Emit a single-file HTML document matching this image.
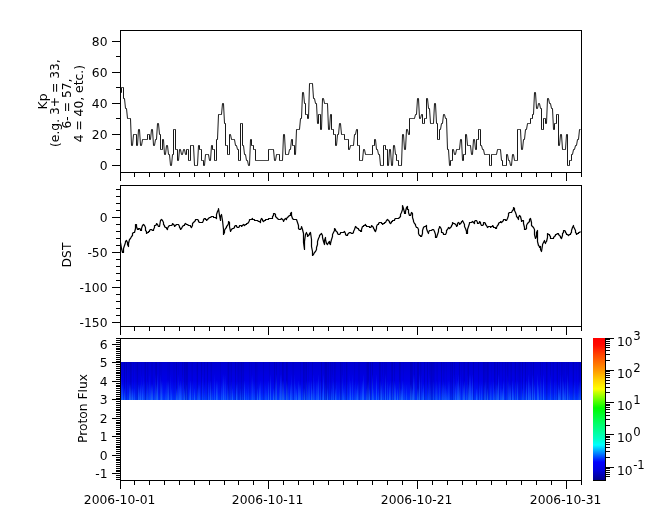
<!DOCTYPE html>
<html><head><meta charset="utf-8"><title>tplot</title>
<style>html,body{margin:0;padding:0;background:#fff}svg{display:block}</style></head>
<body>
<svg width="665" height="523" viewBox="0 0 665 523">
<rect width="665" height="523" fill="#fff"/>
<defs>
<linearGradient id="cb" x1="0" y1="0" x2="0" y2="1">
<stop offset="0.0000" stop-color="rgb(255,0,0)"/>
<stop offset="0.0493" stop-color="rgb(255,10,0)"/>
<stop offset="0.1197" stop-color="rgb(255,70,0)"/>
<stop offset="0.2254" stop-color="rgb(255,150,0)"/>
<stop offset="0.2958" stop-color="rgb(255,210,0)"/>
<stop offset="0.3592" stop-color="rgb(255,255,0)"/>
<stop offset="0.3803" stop-color="rgb(205,255,0)"/>
<stop offset="0.4366" stop-color="rgb(100,255,0)"/>
<stop offset="0.4930" stop-color="rgb(0,250,0)"/>
<stop offset="0.5986" stop-color="rgb(0,255,100)"/>
<stop offset="0.7113" stop-color="rgb(0,255,200)"/>
<stop offset="0.7535" stop-color="rgb(0,255,255)"/>
<stop offset="0.8028" stop-color="rgb(0,150,255)"/>
<stop offset="0.8732" stop-color="rgb(0,0,255)"/>
<stop offset="0.9296" stop-color="rgb(0,0,222)"/>
<stop offset="1.0000" stop-color="rgb(0,0,138)"/>
</linearGradient>
<linearGradient id="sp" x1="0" y1="0" x2="0" y2="1">
<stop offset="0.00" stop-color="rgb(0,0,208)"/>
<stop offset="0.50" stop-color="rgb(0,0,232)"/>
<stop offset="0.80" stop-color="rgb(0,25,248)"/>
<stop offset="1.00" stop-color="rgb(0,58,255)"/>
</linearGradient>
<linearGradient id="f12" gradientUnits="userSpaceOnUse" x1="0" y1="388" x2="0" y2="400"><stop offset="0" stop-color="#2a86ff" stop-opacity="0"/><stop offset="1" stop-color="#2a86ff" stop-opacity="1"/></linearGradient>
<linearGradient id="f16" gradientUnits="userSpaceOnUse" x1="0" y1="384" x2="0" y2="400"><stop offset="0" stop-color="#2a86ff" stop-opacity="0"/><stop offset="1" stop-color="#2a86ff" stop-opacity="1"/></linearGradient>
<linearGradient id="f20" gradientUnits="userSpaceOnUse" x1="0" y1="380" x2="0" y2="400"><stop offset="0" stop-color="#2a86ff" stop-opacity="0"/><stop offset="1" stop-color="#2a86ff" stop-opacity="1"/></linearGradient>
<linearGradient id="f26" gradientUnits="userSpaceOnUse" x1="0" y1="374" x2="0" y2="400"><stop offset="0" stop-color="#2a86ff" stop-opacity="0"/><stop offset="1" stop-color="#2a86ff" stop-opacity="1"/></linearGradient>
</defs>
<rect x="121" y="362" width="460" height="38" fill="url(#sp)"/>
<g fill="none" shape-rendering="crispEdges">
<path d="M128.5 362v38M129.5 362v38M135.5 362v38M138.5 362v38M139.5 362v38M141.5 362v38M148.5 362v38M160.5 362v38M161.5 362v38M167.5 362v38M168.5 362v38M173.5 362v38M174.5 362v38M178.5 362v38M191.5 362v38M196.5 362v38M210.5 362v38M229.5 362v38M230.5 362v38M251.5 362v38M257.5 362v38M279.5 362v38M292.5 362v38M327.5 362v38M331.5 362v38M344.5 362v38M347.5 362v38M385.5 362v38M403.5 362v38M421.5 362v38M436.5 362v38M444.5 362v38M446.5 362v38M461.5 362v38M491.5 362v38M508.5 362v38M514.5 362v38M517.5 362v38M527.5 362v38M530.5 362v38M552.5 362v38M556.5 362v38M563.5 362v38M564.5 362v38M567.5 362v38M572.5 362v38M576.5 362v38M578.5 362v38" stroke="#00004a" stroke-opacity="0.05"/>
<path d="M133.5 362v38M136.5 362v38M144.5 362v38M151.5 362v38M152.5 362v38M159.5 362v38M169.5 362v38M192.5 362v38M220.5 362v38M227.5 362v38M237.5 362v38M239.5 362v38M240.5 362v38M242.5 362v38M249.5 362v38M256.5 362v38M269.5 362v38M293.5 362v38M300.5 362v38M305.5 362v38M308.5 362v38M324.5 362v38M332.5 362v38M335.5 362v38M341.5 362v38M342.5 362v38M354.5 362v38M358.5 362v38M359.5 362v38M366.5 362v38M382.5 362v38M384.5 362v38M386.5 362v38M429.5 362v38M434.5 362v38M437.5 362v38M443.5 362v38M451.5 362v38M463.5 362v38M467.5 362v38M485.5 362v38M486.5 362v38M495.5 362v38M499.5 362v38M502.5 362v38M510.5 362v38M518.5 362v38M520.5 362v38M531.5 362v38M542.5 362v38M547.5 362v38M559.5 362v38M562.5 362v38M566.5 362v38" stroke="#00004a" stroke-opacity="0.08"/>
<path d="M131.5 362v38M147.5 362v38M155.5 362v38M182.5 362v38M185.5 362v38M204.5 362v38M211.5 362v38M231.5 362v38M238.5 362v38M243.5 362v38M255.5 362v38M263.5 362v38M276.5 362v38M283.5 362v38M287.5 362v38M304.5 362v38M312.5 362v38M328.5 362v38M330.5 362v38M334.5 362v38M380.5 362v38M391.5 362v38M394.5 362v38M400.5 362v38M412.5 362v38M414.5 362v38M420.5 362v38M430.5 362v38M432.5 362v38M433.5 362v38M450.5 362v38M454.5 362v38M464.5 362v38M478.5 362v38M484.5 362v38M488.5 362v38M505.5 362v38M507.5 362v38M511.5 362v38M519.5 362v38M540.5 362v38M550.5 362v38M553.5 362v38M561.5 362v38M568.5 362v38M579.5 362v38" stroke="#00004a" stroke-opacity="0.12"/>
<path d="M124.5 362v38M126.5 362v38M130.5 362v38M137.5 362v38M145.5 362v38M156.5 362v38M176.5 362v38M184.5 362v38M186.5 362v38M187.5 362v38M197.5 362v38M201.5 362v38M207.5 362v38M228.5 362v38M235.5 362v38M241.5 362v38M274.5 362v38M282.5 362v38M286.5 362v38M303.5 362v38M306.5 362v38M321.5 362v38M325.5 362v38M326.5 362v38M340.5 362v38M346.5 362v38M367.5 362v38M368.5 362v38M370.5 362v38M372.5 362v38M379.5 362v38M392.5 362v38M399.5 362v38M410.5 362v38M411.5 362v38M417.5 362v38M418.5 362v38M424.5 362v38M427.5 362v38M431.5 362v38M441.5 362v38M452.5 362v38M459.5 362v38M468.5 362v38M473.5 362v38M483.5 362v38M487.5 362v38M494.5 362v38M497.5 362v38M515.5 362v38M522.5 362v38M525.5 362v38M533.5 362v38M546.5 362v38M557.5 362v38M573.5 362v38" stroke="#00004a" stroke-opacity="0.17"/>
<path d="M133.5 388v12M146.5 388v12M154.5 388v12M165.5 388v12M211.5 388v12M212.5 388v12M228.5 388v12M242.5 388v12M246.5 388v12M266.5 388v12M274.5 388v12M284.5 388v12M302.5 388v12M303.5 388v12M307.5 388v12M339.5 388v12M360.5 388v12M383.5 388v12M428.5 388v12M447.5 388v12M477.5 388v12M525.5 388v12M569.5 388v12" stroke="url(#f12)" stroke-opacity="0.20"/>
<path d="M131.5 388v12M134.5 388v12M139.5 388v12M171.5 388v12M177.5 388v12M189.5 388v12M197.5 388v12M240.5 388v12M312.5 388v12M322.5 388v12M331.5 388v12M343.5 388v12M356.5 388v12M366.5 388v12M373.5 388v12M378.5 388v12M400.5 388v12M418.5 388v12M422.5 388v12M446.5 388v12M494.5 388v12M501.5 388v12M513.5 388v12M522.5 388v12M564.5 388v12" stroke="url(#f12)" stroke-opacity="0.35"/>
<path d="M124.5 388v12M132.5 388v12M176.5 388v12M184.5 388v12M194.5 388v12M232.5 388v12M257.5 388v12M273.5 388v12M296.5 388v12M304.5 388v12M327.5 388v12M335.5 388v12M369.5 388v12M397.5 388v12M401.5 388v12M412.5 388v12M417.5 388v12M476.5 388v12M487.5 388v12M502.5 388v12M559.5 388v12" stroke="url(#f12)" stroke-opacity="0.55"/>
<path d="M148.5 384v16M204.5 384v16M230.5 384v16M248.5 384v16M254.5 384v16M265.5 384v16M288.5 384v16M292.5 384v16M325.5 384v16M344.5 384v16M354.5 384v16M361.5 384v16M404.5 384v16M427.5 384v16M430.5 384v16M435.5 384v16M437.5 384v16M441.5 384v16M495.5 384v16M573.5 384v16M578.5 384v16" stroke="url(#f16)" stroke-opacity="0.20"/>
<path d="M150.5 384v16M181.5 384v16M186.5 384v16M198.5 384v16M199.5 384v16M221.5 384v16M227.5 384v16M279.5 384v16M287.5 384v16M295.5 384v16M367.5 384v16M406.5 384v16M411.5 384v16M442.5 384v16M444.5 384v16M445.5 384v16M466.5 384v16M471.5 384v16M479.5 384v16M481.5 384v16M484.5 384v16M490.5 384v16M496.5 384v16M500.5 384v16M509.5 384v16" stroke="url(#f16)" stroke-opacity="0.35"/>
<path d="M122.5 384v16M129.5 384v16M130.5 384v16M138.5 384v16M140.5 384v16M142.5 384v16M151.5 384v16M152.5 384v16M156.5 384v16M179.5 384v16M236.5 384v16M259.5 384v16M290.5 384v16M299.5 384v16M300.5 384v16M357.5 384v16M381.5 384v16M389.5 384v16M395.5 384v16M410.5 384v16M423.5 384v16M455.5 384v16M459.5 384v16M463.5 384v16M468.5 384v16M497.5 384v16M510.5 384v16M530.5 384v16M534.5 384v16M538.5 384v16M558.5 384v16" stroke="url(#f16)" stroke-opacity="0.55"/>
<path d="M144.5 380v20M162.5 380v20M166.5 380v20M183.5 380v20M192.5 380v20M231.5 380v20M237.5 380v20M253.5 380v20M314.5 380v20M336.5 380v20M347.5 380v20M355.5 380v20M358.5 380v20M403.5 380v20M449.5 380v20M462.5 380v20M491.5 380v20M541.5 380v20M554.5 380v20M556.5 380v20M568.5 380v20M574.5 380v20" stroke="url(#f20)" stroke-opacity="0.20"/>
<path d="M147.5 380v20M167.5 380v20M208.5 380v20M217.5 380v20M260.5 380v20M275.5 380v20M306.5 380v20M308.5 380v20M309.5 380v20M316.5 380v20M317.5 380v20M320.5 380v20M333.5 380v20M368.5 380v20M380.5 380v20M387.5 380v20M390.5 380v20M392.5 380v20M399.5 380v20M433.5 380v20M436.5 380v20M439.5 380v20M443.5 380v20M448.5 380v20M485.5 380v20M493.5 380v20M508.5 380v20M515.5 380v20M529.5 380v20M565.5 380v20M579.5 380v20M580.5 380v20" stroke="url(#f20)" stroke-opacity="0.35"/>
<path d="M161.5 380v20M168.5 380v20M180.5 380v20M190.5 380v20M210.5 380v20M216.5 380v20M244.5 380v20M268.5 380v20M282.5 380v20M283.5 380v20M286.5 380v20M298.5 380v20M311.5 380v20M350.5 380v20M362.5 380v20M394.5 380v20M402.5 380v20M457.5 380v20M464.5 380v20M503.5 380v20M512.5 380v20M517.5 380v20M526.5 380v20M563.5 380v20" stroke="url(#f20)" stroke-opacity="0.55"/>
<path d="M141.5 374v26M143.5 374v26M149.5 374v26M170.5 374v26M182.5 374v26M202.5 374v26M222.5 374v26M224.5 374v26M251.5 374v26M332.5 374v26M349.5 374v26M382.5 374v26M421.5 374v26M429.5 374v26M453.5 374v26M454.5 374v26M456.5 374v26M460.5 374v26M467.5 374v26M507.5 374v26M523.5 374v26M533.5 374v26" stroke="url(#f26)" stroke-opacity="0.20"/>
<path d="M121.5 374v26M155.5 374v26M160.5 374v26M178.5 374v26M214.5 374v26M225.5 374v26M252.5 374v26M281.5 374v26M291.5 374v26M294.5 374v26M313.5 374v26M342.5 374v26M352.5 374v26M414.5 374v26M540.5 374v26M550.5 374v26M560.5 374v26M562.5 374v26" stroke="url(#f26)" stroke-opacity="0.35"/>
<path d="M157.5 374v26M223.5 374v26M270.5 374v26M276.5 374v26M280.5 374v26M318.5 374v26M323.5 374v26M363.5 374v26M372.5 374v26M376.5 374v26M385.5 374v26M413.5 374v26M419.5 374v26M458.5 374v26M469.5 374v26M470.5 374v26M472.5 374v26M498.5 374v26M528.5 374v26M532.5 374v26M537.5 374v26M543.5 374v26M567.5 374v26" stroke="url(#f26)" stroke-opacity="0.55"/>
</g>
<g shape-rendering="crispEdges" fill="#000">
<rect x="120" y="30" width="462" height="1"/>
<rect x="120" y="172" width="462" height="1"/>
<rect x="120" y="30" width="1" height="143"/>
<rect x="581" y="30" width="1" height="143"/>
<rect x="120" y="172" width="1" height="9"/>
<rect x="134" y="172" width="1" height="5"/>
<rect x="149" y="172" width="1" height="5"/>
<rect x="164" y="172" width="1" height="5"/>
<rect x="179" y="172" width="1" height="5"/>
<rect x="194" y="172" width="1" height="5"/>
<rect x="209" y="172" width="1" height="5"/>
<rect x="224" y="172" width="1" height="5"/>
<rect x="238" y="172" width="1" height="5"/>
<rect x="253" y="172" width="1" height="5"/>
<rect x="268" y="172" width="1" height="9"/>
<rect x="283" y="172" width="1" height="5"/>
<rect x="298" y="172" width="1" height="5"/>
<rect x="313" y="172" width="1" height="5"/>
<rect x="328" y="172" width="1" height="5"/>
<rect x="343" y="172" width="1" height="5"/>
<rect x="357" y="172" width="1" height="5"/>
<rect x="372" y="172" width="1" height="5"/>
<rect x="387" y="172" width="1" height="5"/>
<rect x="402" y="172" width="1" height="5"/>
<rect x="417" y="172" width="1" height="9"/>
<rect x="432" y="172" width="1" height="5"/>
<rect x="447" y="172" width="1" height="5"/>
<rect x="462" y="172" width="1" height="5"/>
<rect x="476" y="172" width="1" height="5"/>
<rect x="491" y="172" width="1" height="5"/>
<rect x="506" y="172" width="1" height="5"/>
<rect x="521" y="172" width="1" height="5"/>
<rect x="536" y="172" width="1" height="5"/>
<rect x="551" y="172" width="1" height="5"/>
<rect x="566" y="172" width="1" height="9"/>
<rect x="581" y="172" width="1" height="5"/>
<rect x="120" y="185" width="462" height="1"/>
<rect x="120" y="326" width="462" height="1"/>
<rect x="120" y="185" width="1" height="142"/>
<rect x="581" y="185" width="1" height="142"/>
<rect x="120" y="326" width="1" height="9"/>
<rect x="134" y="326" width="1" height="5"/>
<rect x="149" y="326" width="1" height="5"/>
<rect x="164" y="326" width="1" height="5"/>
<rect x="179" y="326" width="1" height="5"/>
<rect x="194" y="326" width="1" height="5"/>
<rect x="209" y="326" width="1" height="5"/>
<rect x="224" y="326" width="1" height="5"/>
<rect x="238" y="326" width="1" height="5"/>
<rect x="253" y="326" width="1" height="5"/>
<rect x="268" y="326" width="1" height="9"/>
<rect x="283" y="326" width="1" height="5"/>
<rect x="298" y="326" width="1" height="5"/>
<rect x="313" y="326" width="1" height="5"/>
<rect x="328" y="326" width="1" height="5"/>
<rect x="343" y="326" width="1" height="5"/>
<rect x="357" y="326" width="1" height="5"/>
<rect x="372" y="326" width="1" height="5"/>
<rect x="387" y="326" width="1" height="5"/>
<rect x="402" y="326" width="1" height="5"/>
<rect x="417" y="326" width="1" height="9"/>
<rect x="432" y="326" width="1" height="5"/>
<rect x="447" y="326" width="1" height="5"/>
<rect x="462" y="326" width="1" height="5"/>
<rect x="476" y="326" width="1" height="5"/>
<rect x="491" y="326" width="1" height="5"/>
<rect x="506" y="326" width="1" height="5"/>
<rect x="521" y="326" width="1" height="5"/>
<rect x="536" y="326" width="1" height="5"/>
<rect x="551" y="326" width="1" height="5"/>
<rect x="566" y="326" width="1" height="9"/>
<rect x="581" y="326" width="1" height="5"/>
<rect x="120" y="338" width="462" height="1"/>
<rect x="120" y="480" width="462" height="1"/>
<rect x="120" y="338" width="1" height="143"/>
<rect x="581" y="338" width="1" height="143"/>
<rect x="120" y="480" width="1" height="9"/>
<rect x="134" y="480" width="1" height="5"/>
<rect x="149" y="480" width="1" height="5"/>
<rect x="164" y="480" width="1" height="5"/>
<rect x="179" y="480" width="1" height="5"/>
<rect x="194" y="480" width="1" height="5"/>
<rect x="209" y="480" width="1" height="5"/>
<rect x="224" y="480" width="1" height="5"/>
<rect x="238" y="480" width="1" height="5"/>
<rect x="253" y="480" width="1" height="5"/>
<rect x="268" y="480" width="1" height="9"/>
<rect x="283" y="480" width="1" height="5"/>
<rect x="298" y="480" width="1" height="5"/>
<rect x="313" y="480" width="1" height="5"/>
<rect x="328" y="480" width="1" height="5"/>
<rect x="343" y="480" width="1" height="5"/>
<rect x="357" y="480" width="1" height="5"/>
<rect x="372" y="480" width="1" height="5"/>
<rect x="387" y="480" width="1" height="5"/>
<rect x="402" y="480" width="1" height="5"/>
<rect x="417" y="480" width="1" height="9"/>
<rect x="432" y="480" width="1" height="5"/>
<rect x="447" y="480" width="1" height="5"/>
<rect x="462" y="480" width="1" height="5"/>
<rect x="476" y="480" width="1" height="5"/>
<rect x="491" y="480" width="1" height="5"/>
<rect x="506" y="480" width="1" height="5"/>
<rect x="521" y="480" width="1" height="5"/>
<rect x="536" y="480" width="1" height="5"/>
<rect x="551" y="480" width="1" height="5"/>
<rect x="566" y="480" width="1" height="9"/>
<rect x="581" y="480" width="1" height="5"/>
<rect x="112" y="165" width="9" height="1"/>
<rect x="116" y="149" width="5" height="1"/>
<rect x="112" y="134" width="9" height="1"/>
<rect x="116" y="118" width="5" height="1"/>
<rect x="112" y="103" width="9" height="1"/>
<rect x="116" y="87" width="5" height="1"/>
<rect x="112" y="72" width="9" height="1"/>
<rect x="116" y="56" width="5" height="1"/>
<rect x="112" y="41" width="9" height="1"/>
<rect x="112" y="322" width="9" height="1"/>
<rect x="116" y="315" width="5" height="1"/>
<rect x="116" y="308" width="5" height="1"/>
<rect x="116" y="301" width="5" height="1"/>
<rect x="116" y="294" width="5" height="1"/>
<rect x="112" y="287" width="9" height="1"/>
<rect x="116" y="280" width="5" height="1"/>
<rect x="116" y="273" width="5" height="1"/>
<rect x="116" y="266" width="5" height="1"/>
<rect x="116" y="259" width="5" height="1"/>
<rect x="112" y="252" width="9" height="1"/>
<rect x="116" y="245" width="5" height="1"/>
<rect x="116" y="238" width="5" height="1"/>
<rect x="116" y="231" width="5" height="1"/>
<rect x="116" y="224" width="5" height="1"/>
<rect x="112" y="217" width="9" height="1"/>
<rect x="116" y="210" width="5" height="1"/>
<rect x="116" y="203" width="5" height="1"/>
<rect x="116" y="196" width="5" height="1"/>
<rect x="116" y="189" width="5" height="1"/>
<rect x="116" y="479" width="5" height="1"/>
<rect x="116" y="477" width="5" height="1"/>
<rect x="116" y="475" width="5" height="1"/>
<rect x="112" y="473" width="9" height="1"/>
<rect x="116" y="471" width="5" height="1"/>
<rect x="116" y="470" width="5" height="1"/>
<rect x="116" y="468" width="5" height="1"/>
<rect x="116" y="466" width="5" height="1"/>
<rect x="116" y="464" width="5" height="1"/>
<rect x="116" y="462" width="5" height="1"/>
<rect x="116" y="460" width="5" height="1"/>
<rect x="116" y="459" width="5" height="1"/>
<rect x="116" y="457" width="5" height="1"/>
<rect x="112" y="455" width="9" height="1"/>
<rect x="116" y="453" width="5" height="1"/>
<rect x="116" y="451" width="5" height="1"/>
<rect x="116" y="449" width="5" height="1"/>
<rect x="116" y="447" width="5" height="1"/>
<rect x="116" y="446" width="5" height="1"/>
<rect x="116" y="444" width="5" height="1"/>
<rect x="116" y="442" width="5" height="1"/>
<rect x="116" y="440" width="5" height="1"/>
<rect x="116" y="438" width="5" height="1"/>
<rect x="112" y="436" width="9" height="1"/>
<rect x="116" y="434" width="5" height="1"/>
<rect x="116" y="433" width="5" height="1"/>
<rect x="116" y="431" width="5" height="1"/>
<rect x="116" y="429" width="5" height="1"/>
<rect x="116" y="427" width="5" height="1"/>
<rect x="116" y="425" width="5" height="1"/>
<rect x="116" y="423" width="5" height="1"/>
<rect x="116" y="422" width="5" height="1"/>
<rect x="116" y="420" width="5" height="1"/>
<rect x="112" y="418" width="9" height="1"/>
<rect x="116" y="416" width="5" height="1"/>
<rect x="116" y="414" width="5" height="1"/>
<rect x="116" y="412" width="5" height="1"/>
<rect x="116" y="410" width="5" height="1"/>
<rect x="116" y="409" width="5" height="1"/>
<rect x="116" y="407" width="5" height="1"/>
<rect x="116" y="405" width="5" height="1"/>
<rect x="116" y="403" width="5" height="1"/>
<rect x="116" y="401" width="5" height="1"/>
<rect x="112" y="399" width="9" height="1"/>
<rect x="116" y="398" width="5" height="1"/>
<rect x="116" y="396" width="5" height="1"/>
<rect x="116" y="394" width="5" height="1"/>
<rect x="116" y="392" width="5" height="1"/>
<rect x="116" y="390" width="5" height="1"/>
<rect x="116" y="388" width="5" height="1"/>
<rect x="116" y="386" width="5" height="1"/>
<rect x="116" y="385" width="5" height="1"/>
<rect x="116" y="383" width="5" height="1"/>
<rect x="112" y="381" width="9" height="1"/>
<rect x="116" y="379" width="5" height="1"/>
<rect x="116" y="377" width="5" height="1"/>
<rect x="116" y="375" width="5" height="1"/>
<rect x="116" y="373" width="5" height="1"/>
<rect x="116" y="372" width="5" height="1"/>
<rect x="116" y="370" width="5" height="1"/>
<rect x="116" y="368" width="5" height="1"/>
<rect x="116" y="366" width="5" height="1"/>
<rect x="116" y="364" width="5" height="1"/>
<rect x="112" y="362" width="9" height="1"/>
<rect x="116" y="361" width="5" height="1"/>
<rect x="116" y="359" width="5" height="1"/>
<rect x="116" y="357" width="5" height="1"/>
<rect x="116" y="355" width="5" height="1"/>
<rect x="116" y="353" width="5" height="1"/>
<rect x="116" y="351" width="5" height="1"/>
<rect x="116" y="349" width="5" height="1"/>
<rect x="116" y="348" width="5" height="1"/>
<rect x="116" y="346" width="5" height="1"/>
<rect x="112" y="344" width="9" height="1"/>
<rect x="116" y="342" width="5" height="1"/>
<rect x="116" y="340" width="5" height="1"/>
<rect x="116" y="338" width="5" height="1"/>
</g>
<rect x="593" y="338" width="12" height="142" fill="url(#cb)"/>
<g shape-rendering="crispEdges" fill="#000">
<rect x="605" y="338" width="1" height="143"/>
<rect x="593" y="480" width="13" height="1"/>
<rect x="605" y="338" width="9" height="1"/>
<rect x="605" y="370" width="9" height="1"/>
<rect x="605" y="402" width="9" height="1"/>
<rect x="605" y="434" width="9" height="1"/>
<rect x="605" y="467" width="9" height="1"/>
<rect x="605" y="476" width="5" height="1"/>
<rect x="605" y="474" width="5" height="1"/>
<rect x="605" y="472" width="5" height="1"/>
<rect x="605" y="470" width="5" height="1"/>
<rect x="605" y="468" width="5" height="1"/>
<rect x="605" y="457" width="5" height="1"/>
<rect x="605" y="451" width="5" height="1"/>
<rect x="605" y="447" width="5" height="1"/>
<rect x="605" y="444" width="5" height="1"/>
<rect x="605" y="442" width="5" height="1"/>
<rect x="605" y="439" width="5" height="1"/>
<rect x="605" y="437" width="5" height="1"/>
<rect x="605" y="436" width="5" height="1"/>
<rect x="605" y="425" width="5" height="1"/>
<rect x="605" y="419" width="5" height="1"/>
<rect x="605" y="415" width="5" height="1"/>
<rect x="605" y="412" width="5" height="1"/>
<rect x="605" y="409" width="5" height="1"/>
<rect x="605" y="407" width="5" height="1"/>
<rect x="605" y="405" width="5" height="1"/>
<rect x="605" y="404" width="5" height="1"/>
<rect x="605" y="392" width="5" height="1"/>
<rect x="605" y="387" width="5" height="1"/>
<rect x="605" y="383" width="5" height="1"/>
<rect x="605" y="380" width="5" height="1"/>
<rect x="605" y="377" width="5" height="1"/>
<rect x="605" y="375" width="5" height="1"/>
<rect x="605" y="373" width="5" height="1"/>
<rect x="605" y="371" width="5" height="1"/>
<rect x="605" y="360" width="5" height="1"/>
<rect x="605" y="354" width="5" height="1"/>
<rect x="605" y="350" width="5" height="1"/>
<rect x="605" y="347" width="5" height="1"/>
<rect x="605" y="345" width="5" height="1"/>
<rect x="605" y="343" width="5" height="1"/>
<rect x="605" y="341" width="5" height="1"/>
<rect x="605" y="339" width="5" height="1"/>
</g>
<polyline points="120.5,92.5 121.5,92.5 121.5,87.5 122.5,87.5 123.5,87.5 123.5,98.5 124.5,98.5 125.5,108.5 126.5,108.5 127.5,118.5 128.5,118.5 129.5,118.5 130.5,118.5 131.5,145.5 132.5,145.5 133.5,134.5 134.5,134.5 135.5,134.5 136.5,134.5 136.5,145.5 137.5,145.5 138.5,129.5 139.5,129.5 140.5,145.5 141.5,145.5 142.5,139.5 143.5,139.5 144.5,139.5 145.5,139.5 146.5,139.5 147.5,139.5 147.5,134.5 148.5,134.5 149.5,134.5 149.5,139.5 150.5,139.5 151.5,129.5 152.5,129.5 153.5,145.5 154.5,145.5 155.5,139.5 156.5,139.5 157.5,123.5 158.5,123.5 159.5,134.5 160.5,134.5 160.5,149.5 161.5,149.5 162.5,149.5 162.5,139.5 163.5,139.5 164.5,154.5 165.5,154.5 166.5,145.5 167.5,145.5 168.5,154.5 169.5,154.5 170.5,165.5 171.5,165.5 172.5,154.5 173.5,154.5 173.5,129.5 174.5,129.5 175.5,129.5 175.5,149.5 176.5,149.5 177.5,149.5 177.5,160.5 178.5,160.5 179.5,149.5 180.5,149.5 181.5,154.5 182.5,154.5 183.5,149.5 184.5,149.5 185.5,154.5 186.5,154.5 186.5,149.5 187.5,149.5 188.5,149.5 188.5,160.5 189.5,160.5 190.5,160.5 190.5,145.5 191.5,145.5 192.5,145.5 193.5,145.5 194.5,165.5 195.5,165.5 196.5,165.5 197.5,165.5 198.5,145.5 199.5,145.5 199.5,149.5 200.5,149.5 201.5,149.5 201.5,160.5 202.5,160.5 203.5,160.5 203.5,165.5 204.5,165.5 205.5,154.5 206.5,154.5 207.5,154.5 208.5,154.5 209.5,160.5 210.5,160.5 211.5,145.5 212.5,145.5 212.5,149.5 213.5,149.5 214.5,149.5 214.5,160.5 215.5,160.5 216.5,160.5 216.5,139.5 217.5,139.5 218.5,114.5 219.5,114.5 220.5,114.5 221.5,114.5 222.5,103.5 223.5,103.5 224.5,123.5 225.5,123.5 225.5,145.5 226.5,145.5 227.5,145.5 227.5,154.5 228.5,154.5 229.5,154.5 229.5,134.5 230.5,134.5 231.5,139.5 232.5,139.5 233.5,139.5 234.5,139.5 235.5,145.5 236.5,145.5 237.5,149.5 238.5,149.5 238.5,160.5 239.5,160.5 240.5,160.5 240.5,123.5 241.5,123.5 242.5,123.5 242.5,145.5 243.5,145.5 244.5,154.5 245.5,154.5 246.5,160.5 247.5,160.5 248.5,165.5 249.5,165.5 250.5,139.5 251.5,139.5 251.5,145.5 252.5,145.5 253.5,145.5 253.5,149.5 254.5,149.5 255.5,149.5 255.5,160.5 256.5,160.5 257.5,160.5 258.5,160.5 259.5,160.5 260.5,160.5 261.5,160.5 262.5,160.5 263.5,160.5 264.5,160.5 265.5,160.5 266.5,160.5 267.5,160.5 268.5,160.5 268.5,149.5 269.5,149.5 270.5,149.5 271.5,149.5 272.5,149.5 273.5,149.5 274.5,160.5 275.5,160.5 276.5,154.5 277.5,154.5 278.5,154.5 279.5,154.5 279.5,160.5 280.5,160.5 281.5,160.5 282.5,160.5 283.5,134.5 284.5,134.5 285.5,154.5 286.5,154.5 287.5,154.5 288.5,154.5 289.5,149.5 290.5,149.5 291.5,139.5 292.5,139.5 292.5,145.5 293.5,145.5 294.5,145.5 294.5,154.5 295.5,154.5 296.5,129.5 297.5,129.5 298.5,129.5 299.5,129.5 300.5,118.5 301.5,118.5 302.5,92.5 303.5,92.5 304.5,103.5 305.5,103.5 305.5,114.5 306.5,114.5 307.5,114.5 307.5,118.5 308.5,118.5 309.5,83.5 310.5,83.5 311.5,83.5 312.5,83.5 313.5,98.5 314.5,98.5 315.5,103.5 316.5,103.5 317.5,123.5 318.5,123.5 318.5,114.5 319.5,114.5 320.5,114.5 320.5,129.5 321.5,129.5 322.5,98.5 323.5,98.5 324.5,103.5 325.5,103.5 326.5,103.5 327.5,103.5 328.5,129.5 329.5,129.5 330.5,114.5 331.5,114.5 331.5,129.5 332.5,129.5 333.5,129.5 333.5,134.5 334.5,134.5 335.5,134.5 335.5,145.5 336.5,145.5 337.5,134.5 338.5,134.5 339.5,123.5 340.5,123.5 341.5,134.5 342.5,134.5 343.5,134.5 344.5,134.5 344.5,139.5 345.5,139.5 346.5,139.5 347.5,139.5 348.5,139.5 348.5,149.5 349.5,149.5 350.5,145.5 351.5,145.5 352.5,145.5 353.5,145.5 354.5,134.5 355.5,134.5 356.5,129.5 357.5,129.5 357.5,145.5 358.5,145.5 359.5,145.5 359.5,160.5 360.5,160.5 361.5,160.5 362.5,160.5 363.5,149.5 364.5,149.5 365.5,154.5 366.5,154.5 367.5,154.5 368.5,154.5 369.5,154.5 370.5,154.5 371.5,154.5 372.5,154.5 372.5,145.5 373.5,145.5 374.5,145.5 374.5,139.5 375.5,139.5 376.5,149.5 377.5,149.5 378.5,154.5 379.5,154.5 380.5,165.5 381.5,165.5 382.5,165.5 383.5,165.5 383.5,145.5 384.5,145.5 385.5,145.5 385.5,149.5 386.5,149.5 387.5,149.5 387.5,165.5 388.5,165.5 389.5,149.5 390.5,149.5 391.5,165.5 392.5,165.5 393.5,145.5 394.5,145.5 395.5,154.5 396.5,154.5 396.5,160.5 397.5,160.5 398.5,160.5 398.5,165.5 399.5,165.5 400.5,165.5 401.5,165.5 402.5,134.5 403.5,134.5 404.5,149.5 405.5,149.5 406.5,129.5 407.5,129.5 408.5,134.5 409.5,134.5 409.5,118.5 410.5,118.5 411.5,118.5 412.5,118.5 413.5,118.5 414.5,118.5 415.5,114.5 416.5,114.5 417.5,98.5 418.5,98.5 419.5,118.5 420.5,118.5 421.5,114.5 422.5,114.5 422.5,123.5 423.5,123.5 424.5,123.5 424.5,118.5 425.5,118.5 426.5,118.5 426.5,98.5 427.5,98.5 428.5,108.5 429.5,108.5 430.5,123.5 431.5,123.5 432.5,123.5 433.5,123.5 434.5,103.5 435.5,103.5 436.5,123.5 437.5,123.5 437.5,139.5 438.5,139.5 439.5,139.5 439.5,129.5 440.5,129.5 441.5,123.5 442.5,123.5 443.5,114.5 444.5,114.5 445.5,118.5 446.5,118.5 447.5,149.5 448.5,149.5 449.5,165.5 450.5,165.5 450.5,160.5 451.5,160.5 452.5,160.5 452.5,149.5 453.5,149.5 454.5,154.5 455.5,154.5 456.5,149.5 457.5,149.5 458.5,149.5 459.5,149.5 460.5,139.5 461.5,139.5 462.5,160.5 463.5,160.5 463.5,154.5 464.5,154.5 465.5,154.5 465.5,134.5 466.5,134.5 467.5,145.5 468.5,145.5 469.5,145.5 470.5,145.5 471.5,154.5 472.5,154.5 473.5,139.5 474.5,139.5 475.5,149.5 476.5,149.5 476.5,139.5 477.5,139.5 478.5,139.5 478.5,129.5 479.5,129.5 480.5,129.5 480.5,145.5 481.5,145.5 482.5,149.5 483.5,149.5 484.5,154.5 485.5,154.5 486.5,154.5 487.5,154.5 488.5,154.5 489.5,154.5 489.5,165.5 490.5,165.5 491.5,165.5 491.5,154.5 492.5,154.5 493.5,154.5 494.5,154.5 495.5,154.5 496.5,154.5 497.5,149.5 498.5,149.5 499.5,149.5 500.5,149.5 501.5,160.5 502.5,160.5 502.5,165.5 503.5,165.5 504.5,165.5 505.5,165.5 506.5,165.5 506.5,154.5 507.5,154.5 508.5,160.5 509.5,160.5 510.5,165.5 511.5,165.5 512.5,154.5 513.5,154.5 514.5,160.5 515.5,160.5 516.5,160.5 517.5,160.5 517.5,129.5 518.5,129.5 519.5,129.5 520.5,129.5 521.5,149.5 522.5,149.5 523.5,139.5 524.5,139.5 525.5,129.5 526.5,129.5 527.5,123.5 528.5,123.5 529.5,123.5 530.5,123.5 530.5,118.5 531.5,118.5 532.5,118.5 532.5,114.5 533.5,114.5 534.5,92.5 535.5,92.5 536.5,108.5 537.5,108.5 538.5,103.5 539.5,103.5 540.5,108.5 541.5,108.5 541.5,129.5 542.5,129.5 543.5,129.5 543.5,118.5 544.5,118.5 545.5,118.5 545.5,123.5 546.5,123.5 547.5,98.5 548.5,98.5 549.5,103.5 550.5,103.5 551.5,108.5 552.5,108.5 553.5,129.5 554.5,129.5 554.5,123.5 555.5,123.5 556.5,123.5 556.5,114.5 557.5,114.5 558.5,114.5 558.5,145.5 559.5,145.5 560.5,134.5 561.5,134.5 562.5,149.5 563.5,149.5 564.5,149.5 565.5,149.5 566.5,134.5 567.5,134.5 567.5,165.5 568.5,165.5 569.5,165.5 569.5,160.5 570.5,160.5 571.5,160.5 571.5,154.5 572.5,154.5 573.5,149.5 574.5,149.5 575.5,145.5 576.5,145.5 577.5,139.5 578.5,139.5 579.5,129.5 580.5,129.5" fill="none" stroke="#000" stroke-width="0.9" stroke-linejoin="miter"/>
<polyline points="120.5,242.5 121.5,248.5 122.5,252.5 123.5,252.5 123.5,248.5 124.5,245.5 125.5,242.5 125.5,241.5 126.5,240.5 127.5,242.5 127.5,244.5 128.5,246.5 128.5,243.5 129.5,239.5 130.5,238.5 131.5,236.5 132.5,235.5 132.5,233.5 133.5,232.5 134.5,232.5 135.5,228.5 135.5,224.5 136.5,224.5 136.5,226.5 137.5,229.5 138.5,229.5 138.5,228.5 139.5,228.5 140.5,229.5 140.5,230.5 141.5,230.5 141.5,228.5 142.5,225.5 143.5,224.5 144.5,225.5 145.5,227.5 145.5,230.5 146.5,231.5 146.5,233.5 147.5,232.5 148.5,232.5 148.5,231.5 149.5,231.5 149.5,230.5 150.5,229.5 151.5,229.5 152.5,230.5 153.5,230.5 153.5,229.5 154.5,227.5 154.5,225.5 155.5,225.5 156.5,224.5 156.5,223.5 157.5,224.5 158.5,226.5 159.5,226.5 160.5,220.5 161.5,219.5 162.5,220.5 163.5,222.5 163.5,224.5 164.5,225.5 164.5,226.5 165.5,227.5 166.5,227.5 166.5,228.5 167.5,229.5 167.5,228.5 168.5,226.5 169.5,225.5 170.5,225.5 171.5,225.5 172.5,224.5 172.5,223.5 173.5,224.5 174.5,225.5 174.5,226.5 175.5,225.5 176.5,224.5 177.5,224.5 178.5,224.5 179.5,226.5 179.5,227.5 180.5,228.5 180.5,229.5 181.5,228.5 182.5,226.5 183.5,225.5 184.5,225.5 184.5,224.5 185.5,223.5 186.5,224.5 187.5,224.5 188.5,225.5 189.5,225.5 190.5,225.5 190.5,226.5 191.5,227.5 192.5,225.5 192.5,223.5 193.5,222.5 194.5,221.5 195.5,220.5 195.5,219.5 196.5,219.5 197.5,219.5 198.5,220.5 198.5,221.5 199.5,222.5 200.5,222.5 201.5,222.5 202.5,222.5 203.5,220.5 203.5,219.5 204.5,218.5 205.5,218.5 205.5,219.5 206.5,219.5 206.5,220.5 207.5,219.5 208.5,218.5 209.5,217.5 210.5,217.5 211.5,216.5 212.5,216.5 213.5,216.5 213.5,217.5 214.5,217.5 215.5,217.5 216.5,218.5 216.5,214.5 217.5,211.5 218.5,209.5 218.5,208.5 219.5,215.5 220.5,220.5 220.5,216.5 221.5,214.5 222.5,220.5 223.5,229.5 223.5,234.5 224.5,232.5 224.5,230.5 225.5,228.5 226.5,227.5 226.5,226.5 227.5,225.5 228.5,223.5 228.5,221.5 229.5,222.5 229.5,226.5 230.5,231.5 231.5,229.5 232.5,228.5 233.5,228.5 234.5,227.5 234.5,226.5 235.5,225.5 236.5,225.5 236.5,226.5 237.5,227.5 238.5,227.5 239.5,226.5 239.5,225.5 240.5,225.5 241.5,225.5 241.5,226.5 242.5,225.5 243.5,224.5 244.5,225.5 245.5,224.5 246.5,224.5 246.5,223.5 247.5,223.5 248.5,222.5 249.5,220.5 249.5,219.5 250.5,219.5 251.5,219.5 252.5,218.5 252.5,219.5 253.5,219.5 254.5,219.5 254.5,220.5 255.5,220.5 256.5,220.5 257.5,220.5 258.5,221.5 259.5,221.5 260.5,222.5 260.5,220.5 261.5,218.5 262.5,219.5 262.5,220.5 263.5,221.5 264.5,220.5 265.5,220.5 265.5,219.5 266.5,219.5 267.5,219.5 268.5,219.5 268.5,218.5 269.5,218.5 270.5,218.5 271.5,218.5 272.5,218.5 272.5,216.5 273.5,215.5 273.5,213.5 274.5,213.5 275.5,214.5 275.5,216.5 276.5,217.5 277.5,218.5 278.5,219.5 279.5,219.5 280.5,219.5 281.5,218.5 282.5,219.5 283.5,220.5 283.5,221.5 284.5,219.5 285.5,218.5 286.5,219.5 286.5,218.5 287.5,217.5 288.5,216.5 289.5,215.5 290.5,215.5 290.5,213.5 291.5,212.5 291.5,215.5 292.5,218.5 293.5,219.5 294.5,219.5 295.5,219.5 296.5,219.5 297.5,222.5 298.5,225.5 298.5,228.5 299.5,229.5 300.5,229.5 301.5,227.5 301.5,226.5 302.5,229.5 303.5,233.5 303.5,242.5 304.5,249.5 304.5,241.5 305.5,234.5 306.5,232.5 306.5,233.5 307.5,234.5 307.5,236.5 308.5,235.5 309.5,234.5 309.5,233.5 310.5,232.5 311.5,239.5 311.5,246.5 312.5,251.5 312.5,255.5 313.5,254.5 314.5,252.5 315.5,251.5 316.5,249.5 316.5,247.5 317.5,244.5 317.5,241.5 318.5,238.5 319.5,236.5 319.5,235.5 320.5,234.5 321.5,233.5 322.5,235.5 322.5,237.5 323.5,241.5 324.5,244.5 324.5,240.5 325.5,237.5 325.5,239.5 326.5,243.5 327.5,244.5 328.5,242.5 329.5,241.5 329.5,243.5 330.5,244.5 330.5,243.5 331.5,239.5 332.5,236.5 332.5,234.5 333.5,232.5 334.5,230.5 334.5,228.5 335.5,229.5 335.5,230.5 336.5,231.5 337.5,232.5 337.5,233.5 338.5,234.5 339.5,234.5 340.5,233.5 340.5,232.5 341.5,232.5 342.5,232.5 343.5,232.5 344.5,231.5 345.5,233.5 345.5,234.5 346.5,235.5 347.5,235.5 347.5,234.5 348.5,233.5 349.5,232.5 350.5,232.5 351.5,233.5 352.5,233.5 353.5,232.5 353.5,231.5 354.5,229.5 355.5,226.5 356.5,227.5 357.5,228.5 358.5,228.5 358.5,229.5 359.5,230.5 360.5,230.5 360.5,231.5 361.5,231.5 361.5,229.5 362.5,226.5 363.5,226.5 363.5,225.5 364.5,225.5 365.5,224.5 365.5,225.5 366.5,225.5 366.5,226.5 367.5,226.5 368.5,226.5 369.5,226.5 369.5,227.5 370.5,227.5 371.5,226.5 371.5,225.5 372.5,226.5 373.5,227.5 373.5,228.5 374.5,229.5 374.5,230.5 375.5,231.5 376.5,228.5 376.5,226.5 377.5,224.5 378.5,224.5 378.5,223.5 379.5,222.5 380.5,222.5 381.5,222.5 381.5,223.5 382.5,223.5 382.5,224.5 383.5,223.5 384.5,223.5 384.5,222.5 385.5,222.5 386.5,220.5 387.5,219.5 388.5,220.5 389.5,221.5 389.5,222.5 390.5,223.5 391.5,222.5 391.5,221.5 392.5,221.5 392.5,220.5 393.5,220.5 394.5,220.5 394.5,219.5 395.5,218.5 396.5,218.5 397.5,218.5 398.5,218.5 399.5,217.5 400.5,216.5 400.5,214.5 401.5,212.5 402.5,209.5 402.5,205.5 403.5,208.5 404.5,212.5 404.5,213.5 405.5,213.5 405.5,211.5 406.5,207.5 407.5,206.5 407.5,209.5 408.5,209.5 408.5,212.5 409.5,215.5 410.5,215.5 411.5,212.5 412.5,213.5 412.5,217.5 413.5,220.5 413.5,221.5 414.5,223.5 415.5,224.5 415.5,225.5 416.5,227.5 417.5,227.5 418.5,229.5 418.5,233.5 419.5,235.5 420.5,235.5 420.5,236.5 421.5,236.5 422.5,233.5 422.5,230.5 423.5,227.5 424.5,226.5 425.5,226.5 426.5,225.5 426.5,228.5 427.5,231.5 428.5,233.5 428.5,232.5 429.5,230.5 430.5,230.5 431.5,230.5 432.5,229.5 433.5,229.5 434.5,231.5 435.5,234.5 435.5,237.5 436.5,237.5 437.5,234.5 438.5,231.5 438.5,229.5 439.5,227.5 439.5,226.5 440.5,227.5 441.5,229.5 441.5,232.5 442.5,232.5 443.5,233.5 443.5,234.5 444.5,234.5 445.5,234.5 446.5,232.5 446.5,230.5 447.5,229.5 448.5,227.5 449.5,228.5 450.5,227.5 451.5,226.5 451.5,225.5 452.5,224.5 452.5,222.5 453.5,223.5 454.5,223.5 455.5,224.5 456.5,225.5 456.5,226.5 457.5,225.5 457.5,223.5 458.5,222.5 459.5,223.5 459.5,224.5 460.5,223.5 461.5,222.5 461.5,221.5 462.5,221.5 462.5,220.5 463.5,222.5 464.5,224.5 464.5,226.5 465.5,228.5 466.5,231.5 466.5,233.5 467.5,233.5 467.5,229.5 468.5,226.5 469.5,223.5 469.5,222.5 470.5,222.5 471.5,222.5 472.5,221.5 473.5,222.5 474.5,223.5 474.5,221.5 475.5,220.5 476.5,220.5 477.5,222.5 477.5,223.5 478.5,223.5 479.5,222.5 479.5,221.5 480.5,222.5 480.5,223.5 481.5,225.5 482.5,225.5 483.5,224.5 483.5,222.5 484.5,222.5 485.5,223.5 485.5,224.5 486.5,225.5 487.5,227.5 488.5,226.5 489.5,226.5 490.5,226.5 490.5,227.5 491.5,226.5 492.5,226.5 492.5,225.5 493.5,226.5 493.5,227.5 494.5,227.5 495.5,227.5 495.5,228.5 496.5,228.5 496.5,227.5 497.5,225.5 498.5,224.5 498.5,223.5 499.5,222.5 500.5,222.5 500.5,221.5 501.5,222.5 502.5,221.5 503.5,220.5 503.5,219.5 504.5,219.5 505.5,219.5 505.5,220.5 506.5,220.5 507.5,218.5 508.5,215.5 508.5,213.5 509.5,212.5 510.5,212.5 511.5,212.5 512.5,210.5 513.5,209.5 513.5,207.5 514.5,208.5 514.5,210.5 515.5,212.5 516.5,215.5 516.5,216.5 517.5,217.5 518.5,219.5 518.5,217.5 519.5,215.5 520.5,216.5 521.5,220.5 521.5,221.5 522.5,220.5 523.5,220.5 523.5,223.5 524.5,227.5 524.5,229.5 525.5,229.5 526.5,228.5 526.5,225.5 527.5,223.5 528.5,222.5 529.5,221.5 529.5,219.5 530.5,218.5 531.5,222.5 531.5,225.5 532.5,226.5 533.5,227.5 534.5,229.5 534.5,234.5 535.5,238.5 536.5,236.5 536.5,232.5 537.5,230.5 537.5,241.5 538.5,245.5 539.5,246.5 539.5,247.5 540.5,246.5 540.5,249.5 541.5,251.5 542.5,245.5 542.5,244.5 543.5,242.5 544.5,240.5 544.5,241.5 545.5,243.5 545.5,242.5 546.5,241.5 547.5,237.5 547.5,233.5 548.5,234.5 549.5,234.5 549.5,235.5 550.5,236.5 550.5,238.5 551.5,238.5 552.5,238.5 553.5,238.5 553.5,237.5 554.5,236.5 555.5,235.5 555.5,234.5 556.5,234.5 557.5,233.5 558.5,233.5 558.5,234.5 559.5,235.5 560.5,236.5 560.5,237.5 561.5,238.5 562.5,235.5 562.5,233.5 563.5,232.5 563.5,230.5 564.5,230.5 565.5,231.5 565.5,232.5 566.5,233.5 566.5,234.5 567.5,234.5 568.5,235.5 569.5,234.5 570.5,234.5 570.5,233.5 571.5,232.5 571.5,230.5 572.5,227.5 573.5,225.5 573.5,226.5 574.5,228.5 575.5,230.5 575.5,232.5 576.5,233.5 576.5,234.5 577.5,233.5 578.5,233.5 578.5,232.5 579.5,232.5 580.5,231.5" fill="none" stroke="#000" stroke-width="1.22" stroke-linejoin="round"/>
<g font-family="'DejaVu Sans', 'Liberation Sans', sans-serif" font-size="12.3px" fill="#000">
<text x="107.5" y="169.9" text-anchor="end">0</text>
<text x="107.5" y="138.9" text-anchor="end">20</text>
<text x="107.5" y="107.9" text-anchor="end">40</text>
<text x="107.5" y="76.9" text-anchor="end">60</text>
<text x="107.5" y="45.9" text-anchor="end">80</text>
<text x="107.5" y="221.9" text-anchor="end">0</text>
<text x="107.5" y="256.9" text-anchor="end">-50</text>
<text x="107.5" y="291.9" text-anchor="end">-100</text>
<text x="107.5" y="326.9" text-anchor="end">-150</text>
<text x="107.5" y="478.2" text-anchor="end">-1</text>
<text x="107.5" y="459.7" text-anchor="end">0</text>
<text x="107.5" y="441.2" text-anchor="end">1</text>
<text x="107.5" y="422.7" text-anchor="end">2</text>
<text x="107.5" y="404.2" text-anchor="end">3</text>
<text x="107.5" y="385.8" text-anchor="end">4</text>
<text x="107.5" y="367.3" text-anchor="end">5</text>
<text x="107.5" y="348.8" text-anchor="end">6</text>
<text transform="translate(47.0,101.5) rotate(-90)" text-anchor="middle">Kp</text>
<text transform="translate(59.0,103.1) rotate(-90)" text-anchor="middle">(e.g. 3+ = 33,</text>
<text transform="translate(71.0,103.5) rotate(-90)" text-anchor="middle">6- = 57,</text>
<text transform="translate(83.0,103.7) rotate(-90)" text-anchor="middle">4 = 40, etc.)</text>
<text transform="translate(71.2,255.0) rotate(-90)" text-anchor="middle">DST</text>
<text transform="translate(87.2,408.5) rotate(-90)" text-anchor="middle">Proton Flux</text>
<text x="119.6" y="504" text-anchor="middle">2006-10-01</text>
<text x="267.6" y="504" text-anchor="middle">2006-10-11</text>
<text x="416.6" y="504" text-anchor="middle">2006-10-21</text>
<text x="565.6" y="504" text-anchor="middle">2006-10-31</text>
<text x="617" y="346.1">10<tspan dy="-6" dx="0.5" font-size="11.7px">3</tspan></text>
<text x="617" y="378.1">10<tspan dy="-6" dx="0.5" font-size="11.7px">2</tspan></text>
<text x="617" y="410.1">10<tspan dy="-6" dx="0.5" font-size="11.7px">1</tspan></text>
<text x="617" y="442.1">10<tspan dy="-6" dx="0.5" font-size="11.7px">0</tspan></text>
<text x="617" y="475.1">10<tspan dy="-6" dx="0.5" font-size="11.7px">-1</tspan></text>
</g>
</svg>
</body></html>
